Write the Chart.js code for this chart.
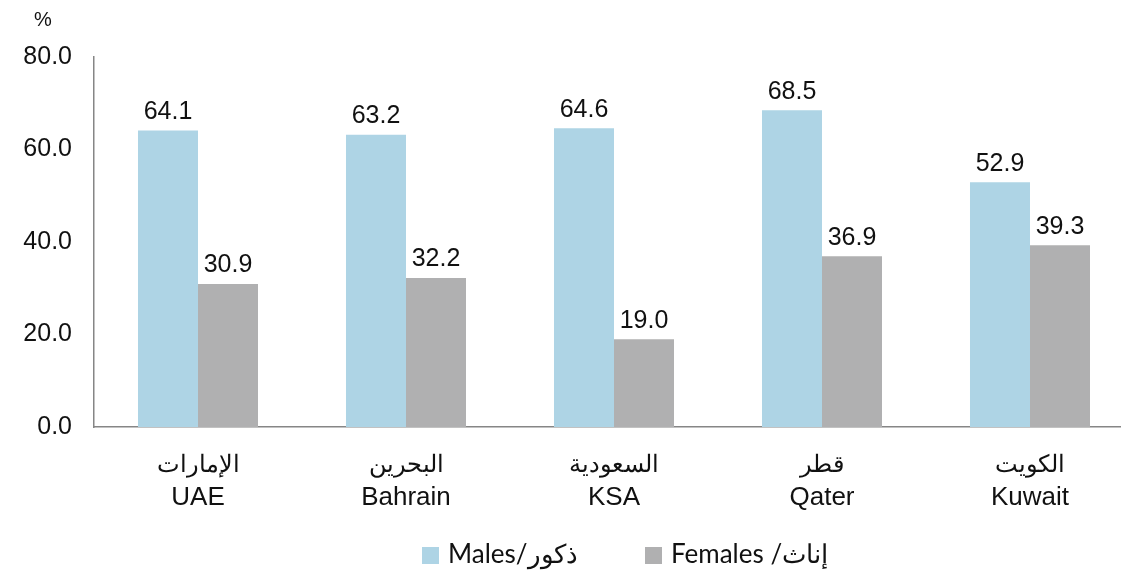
<!DOCTYPE html>
<html>
<head>
<meta charset="utf-8">
<script src="https://cdn.jsdelivr.net/npm/chart.js@4/dist/chart.umd.min.js"></script>
<style>
    html, body { margin: 0; padding: 0; background: #fff; overflow: hidden; }
    #wrap { width: 1140px; height: 570px; }
</style>
</head>
<body>
<div id="wrap"><canvas id="chart" width="1140" height="570"></canvas></div>
<script>
const countriesAr = ['الإمارات', 'البحرين', 'السعودية', 'قطر', 'الكويت'];
const countriesEn = ['UAE', 'Bahrain', 'KSA', 'Qater', 'Kuwait'];
const males = [64.1, 63.2, 64.6, 68.5, 52.9];
const females = [30.9, 32.2, 19.0, 36.9, 39.3];
const yTicks = [0, 20, 40, 60, 80];

const labels = countriesAr.map((ar, i) => [ar, countriesEn[i]]);
const sansFont = '"Liberation Sans", Arial, sans-serif';

// valeurs au-dessus des barres
const valueLabels = {
    id: 'valueLabels',
    afterDatasetsDraw(chart) {
        const ctx = chart.ctx;
        ctx.save();
        ctx.font = '25px ' + sansFont;
        ctx.fillStyle = '#111';
        ctx.textAlign = 'center';
        ctx.textBaseline = 'bottom';
        chart.data.datasets.forEach((ds, di) => {
            chart.getDatasetMeta(di).data.forEach((bar, i) => {
                ctx.fillText(ds.data[i].toFixed(1), bar.x, bar.y - 6);
            });
        });
        ctx.restore();
    }
};

// étiquettes de l'axe x : arabe au-dessus, anglais en dessous
const xLabels = {
    id: 'xLabels',
    afterDraw(chart) {
        const ctx = chart.ctx;
        const x = chart.scales.x;
        const base = chart.chartArea.bottom;
        ctx.save();
        ctx.fillStyle = '#111';
        ctx.textAlign = 'center';
        ctx.textBaseline = 'middle';
        chart.data.labels.forEach((lab, i) => {
            const px = x.getPixelForTick(i);
            ctx.font = '24px ' + sansFont;
            ctx.fillText(lab[0], px, base + 38);
            ctx.font = '26px ' + sansFont;
            ctx.fillText(lab[1], px, base + 71);
        });
        ctx.restore();
    }
};

// "%" + légende
const extras = {
    id: 'extras',
    afterDraw(chart) {
        const ctx = chart.ctx;
        ctx.save();
        ctx.font = '20px ' + sansFont;
        ctx.fillStyle = '#111';
        ctx.textAlign = 'center';
        ctx.textBaseline = 'middle';
        ctx.fillText('%', 43, 20);

        const legendX = [422, 645];
        ctx.font = '26px Lato, "Noto Sans", sans-serif';
        ctx.textAlign = 'left';
        chart.data.datasets.forEach((ds, i) => {
            ctx.fillStyle = ds.backgroundColor;
            ctx.fillRect(legendX[i], 547, 17, 17);
            ctx.fillStyle = '#111';
            ctx.fillText(ds.label, legendX[i] + 26, 555);
        });
        ctx.restore();
    }
};

const data = {
    labels: labels,
    datasets: [
        {
            label: 'Males/ذكور',
            data: males,
            backgroundColor: 'rgb(174, 212, 229)',
        },
        {
            label: 'Females /إناث',
            data: females,
            backgroundColor: 'rgb(176, 176, 177)',
        }
    ]
};

const config = {
    type: 'bar',
    data: data,
    plugins: [valueLabels, xLabels, extras],
    options: {
        responsive: false,
        animation: false,
        layout: {
            padding: { top: 57, right: 6, bottom: 0, left: 0 }
        },
        datasets: {
            bar: { barPercentage: 1, categoryPercentage: 0.577 }
        },
        scales: {
            y: {
                min: 0,
                max: 80,
                afterBuildTicks: (axis) => { axis.ticks = yTicks.map(v => ({ value: v })); },
                afterFit: (axis) => { axis.width = 94; },
                grid: { display: false },
                border: { display: true, color: '#868686', width: 1.5 },
                ticks: {
                    padding: 14,
                    color: '#111',
                    font: { family: sansFont, size: 25 },
                    callback: (v) => v.toFixed(1)
                }
            },
            x: {
                afterFit: (axis) => { axis.height = 143; },
                grid: { display: false },
                border: { display: true, color: '#868686', width: 1.5 },
                ticks: { display: false }
            }
        },
        plugins: {
            legend: { display: false },
            tooltip: { enabled: false }
        }
    }
};

const ctx = document.getElementById('chart').getContext('2d');
const chart = new Chart(ctx, config);
</script>
</body>
</html>
